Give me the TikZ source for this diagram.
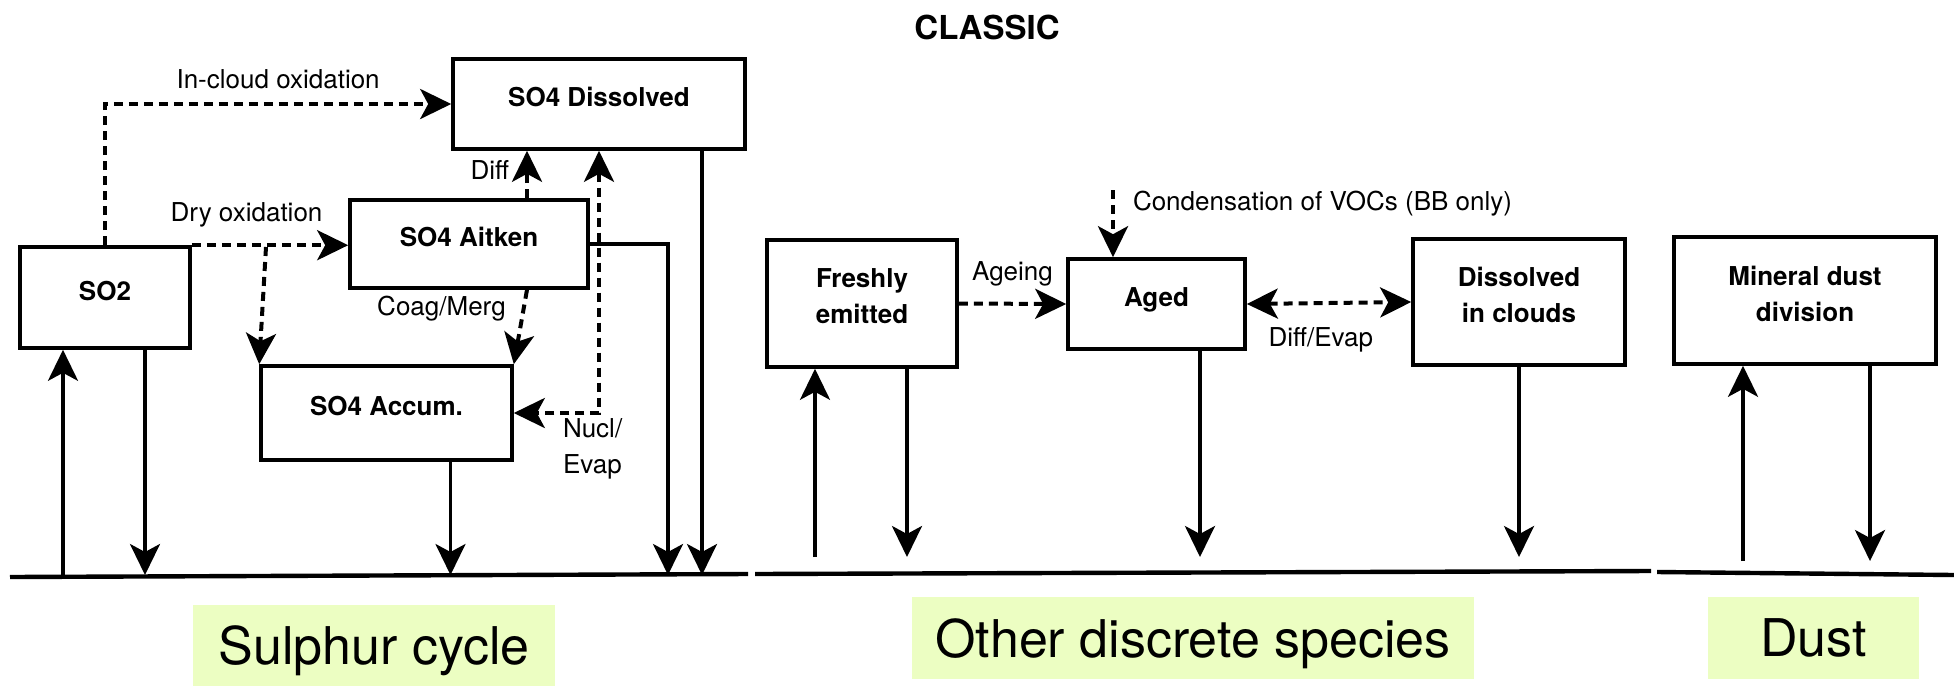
\documentclass[tikz,border=0pt]{standalone}
\usepackage{fontspec}
\setmainfont{TeX Gyre Heros}
\usetikzlibrary{arrows.meta}
\definecolor{tagfill}{RGB}{236,254,194}

\begin{document}
\begin{tikzpicture}[x=1pt,y=-1pt,>={Stealth[length=31pt,width=30pt,inset=8pt]}]
\tikzstyle{box}=[draw,line width=3.6pt,inner sep=2pt,align=center,font=\fontsize{26}{36}\selectfont\bfseries,execute at end node={\rule[-14pt]{0pt}{14pt}}]
\tikzstyle{flow}=[draw,line width=3.4pt,->]
\tikzstyle{dashflow}=[flow,line width=4pt,dash pattern=on 9pt off 6pt]
\tikzstyle{lab}=[inner sep=2pt,font=\fontsize{26}{36}\selectfont]
\tikzstyle{tag}=[fill=tagfill,inner sep=0pt,text depth=0pt,font=\fontsize{52}{60}\selectfont]
\tikzstyle{ground}=[line width=4.4pt]
    \useasboundingbox (0,0) rectangle (1954,686);
    \node[font=\fontsize{33}{36}\selectfont\bfseries] (title) at (987,27) {CLASSIC};
    % sulphur cycle
    \node[box,minimum width=170pt,minimum height=101pt] (so2) at (105,297.5) {SO2};
    \node[box,minimum width=292pt,minimum height=90pt] (diss) at (599,104) {SO4 Dissolved};
    \node[box,minimum width=238pt,minimum height=88pt] (aitken) at (469,244) {SO4 Aitken};
    \node[box,minimum width=251pt,minimum height=94pt] (accum) at (386.5,413) {SO4 Accum.};
    % other species
    \node[box,minimum width=190pt,minimum height=127pt] (fresh) at (862,303.5) {Freshly\\emitted};
    \node[box,minimum width=177pt,minimum height=90pt] (aged) at (1156.5,304) {Aged};
    \node[box,minimum width=212pt,minimum height=126pt] (cloud) at (1519,302) {Dissolved\\in clouds};
    % dust
    \node[box,minimum width=262pt,minimum height=127pt] (dust) at (1805,300.5) {Mineral dust\\division};
    \coordinate (fork) at (266,247);
    \coordinate (voc) at (1113,190);
    \coordinate (gs) at (0,575);
    \coordinate (go) at (0,557);
    \coordinate (gd) at (0,561);
    \draw[dashflow] (so2.north) |- node[lab,pos=0.75,above=11pt] {In-cloud oxidation} (diss.west);
    \draw[dashflow] (so2.north east) -- node[lab,pos=0.35,above=14pt] {Dry oxidation} (so2.north east -| aitken.west);
    \draw[dashflow] (fork) -- (accum.north west);
    \draw[dashflow] ([xshift=58pt]aitken.north) -- node[lab,pos=0.6,left=14pt] {Diff} ([xshift=58pt]aitken.north |- diss.south);
    \draw[dashflow] ([xshift=58pt]aitken.south) -- node[lab,pos=0.25,left=14pt] {Coag/Merg} (accum.north east);
    \draw[dashflow,<->] (diss.south) |- node[lab,pos=0.5,anchor=north west,xshift=-40pt,yshift=-2pt,align=left] {Nucl/\\Evap} (accum.east);
    \draw[flow] ([xshift=-42pt]so2.south |- gs) -- ([xshift=-42pt]so2.south);
    \draw[flow] ([xshift=40pt]so2.south) -- ([xshift=40pt]so2.south |- gs);
    \draw[flow] ([xshift=64pt]accum.south) -- ([xshift=64pt]accum.south |- gs);
    \draw[flow] (aitken.east) -| ([xshift=69pt]diss.south |- gs);
    \draw[flow] ([xshift=103pt]diss.south) -- ([xshift=103pt]diss.south |- gs);
    \draw[dashflow] (fresh.east) -- node[lab,above=14pt] {Ageing} (aged.west);
    \draw[dashflow,<->] (aged.east) -- node[lab,pos=0.45,below=20pt] {Diff/Evap} (cloud.west);
    \draw[dashflow] (voc) -- node[lab,pos=0.2,right=16pt] {Condensation of VOCs (BB only)} (voc |- aged.north);
    \draw[flow] ([xshift=-47pt]fresh.south |- go) -- ([xshift=-47pt]fresh.south);
    \draw[flow] ([xshift=45pt]fresh.south) -- ([xshift=45pt]fresh.south |- go);
    \draw[flow] ([xshift=43.5pt]aged.south) -- ([xshift=43.5pt]aged.south |- go);
    \draw[flow] (cloud.south) -- (cloud.south |- go);
    \draw[flow] ([xshift=-62pt]dust.south |- gd) -- ([xshift=-62pt]dust.south);
    \draw[flow] ([xshift=65pt]dust.south) -- ([xshift=65pt]dust.south |- gd);
    % ground
    \draw[ground] (10,577) -- (748,574);
    \draw[ground] (755,574) -- (1651,571);
    \draw[ground] (1657,572) -- (1954,575);
    \node[tag,minimum width=362pt,minimum height=81pt] (sulphur) at (374,645.5) {Sulphur cycle};
    \node[tag,minimum width=562pt,minimum height=82pt] (other) at (1193,638) {Other discrete species};
    \node[tag,minimum width=211pt,minimum height=82pt] (dusttag) at (1813.5,638) {Dust};
\end{tikzpicture}
\end{document}
